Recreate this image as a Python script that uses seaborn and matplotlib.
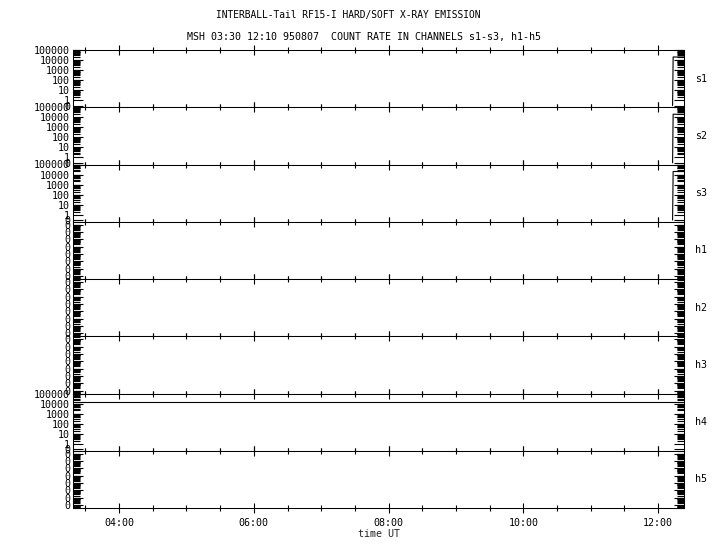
import matplotlib
matplotlib.use("Agg")
import matplotlib.pyplot as plt
import matplotlib.dates as mdates
from matplotlib.ticker import (LogLocator, SymmetricalLogLocator, NullFormatter,
                               FixedLocator, FixedFormatter)
import numpy as np
import pandas as pd
import seaborn as sns

sns.set_style("ticks")
plt.rcParams.update({
    'font.family': ['DejaVu Sans Mono'],
    'font.size': 7.2,
    'axes.linewidth': 0.75,
    'axes.edgecolor': 'black',
    'xtick.color': 'black',
    'ytick.color': 'black',
    'text.color': 'black',
})

# channels, top to bottom
channels = ['s1', 's2', 's3', 'h1', 'h2', 'h3', 'h4', 'h5']
count_channels = ['s1', 's2', 's3', 'h4']

# y ticks
count_ticks = [0, 1, 10, 100, 1000, 10000, 100000]
count_labels = ['0', '1', '10', '100', '1000', '10000', '100000']
zero_ticks = [1e-7, 1e-6, 1e-5, 1e-4, 1e-3, 1e-2, 1e-1, 1]
zero_labels = ['0', '0', '0', '0', '0', '0', '0', '0']

# data
s_times = ['1995-08-07 12:12:50', '1995-08-07 12:13:20', '1995-08-07 12:30:00']
s1_counts = [0, 20000, 20000]
s2_counts = [0, 20000, 20000]
s3_counts = [0, 20000, 20000]
h4_times = ['1995-08-07 03:00:00', '1995-08-07 12:30:00']
h4_counts = [15000, 15000]

series = {
    's1': (s_times, s1_counts),
    's2': (s_times, s2_counts),
    's3': (s_times, s3_counts),
    'h4': (h4_times, h4_counts),
}

t_start = pd.Timestamp('1995-08-07 03:19:00')
t_end = pd.Timestamp('1995-08-07 12:23:00')

fig, axes = plt.subplots(len(channels), 1, sharex=True, figsize=(7.2, 5.5), dpi=100,
                         gridspec_kw=dict(hspace=0))
fig.subplots_adjust(left=73 / 720, right=684 / 720, top=1 - 50 / 550, bottom=1 - 508 / 550)

for ax, ch in zip(axes, channels):
    if ch in series:
        t, v = series[ch]
        df = pd.DataFrame({'time': pd.to_datetime(t), 'count': v})
        sns.lineplot(data=df, x='time', y='count', ax=ax, color='black', linewidth=0.8)
    if ch in count_channels:
        ax.set_yscale('symlog', linthresh=1, linscale=0.5)
        ax.set_ylim(-0.3, 100000)
        ax.yaxis.set_major_locator(FixedLocator(count_ticks))
        ax.yaxis.set_major_formatter(FixedFormatter(count_labels))
        ax.yaxis.set_minor_locator(SymmetricalLogLocator(linthresh=1, base=10,
                                                         subs=np.arange(2, 10)))
    else:
        ax.set_yscale('log')
        ax.set_ylim(10 ** -7.4, 10 ** 0.4)
        ax.yaxis.set_major_locator(FixedLocator(zero_ticks))
        ax.yaxis.set_major_formatter(FixedFormatter(zero_labels))
        ax.yaxis.set_minor_locator(LogLocator(base=10, subs=np.arange(2, 10), numticks=100))
    ax.yaxis.set_minor_formatter(NullFormatter())
    ax.set_ylabel('')
    ax.set_xlabel('')
    ax.tick_params(axis='y', which='both', direction='in', left=True, right=True,
                   width=0.8, pad=2, labelsize=7.2)
    ax.tick_params(axis='y', which='major', length=7.5)
    ax.tick_params(axis='y', which='minor', length=5)
    ax.tick_params(axis='x', which='both', direction='inout', top=True, bottom=True,
                   width=0.8, labelsize=7.2)
    ax.tick_params(axis='x', which='major', length=7)
    ax.tick_params(axis='x', which='minor', length=4)
    ax.text(1.018, 0.5, ch, transform=ax.transAxes, va='center', ha='left', fontsize=7.2)

ax = axes[-1]
ax.set_xlim(t_start, t_end)
ax.xaxis.set_major_locator(mdates.HourLocator(byhour=range(0, 24, 2)))
ax.xaxis.set_minor_locator(mdates.MinuteLocator(byminute=[0, 30]))
ax.xaxis.set_major_formatter(mdates.DateFormatter('%H:%M'))
ax.set_xlabel('time UT', fontsize=7.2, labelpad=1)

fig.text(348 / 720, 1 - 15 / 550, 'INTERBALL-Tail RF15-I HARD/SOFT X-RAY EMISSION',
         ha='center', va='center', fontsize=6.9)
fig.text(364 / 720, 1 - 37 / 550, 'MSH 03:30 12:10 950807  COUNT RATE IN CHANNELS s1-s3, h1-h5',
         ha='center', va='center', fontsize=7.2)

fig.savefig('out.png', dpi=100)
